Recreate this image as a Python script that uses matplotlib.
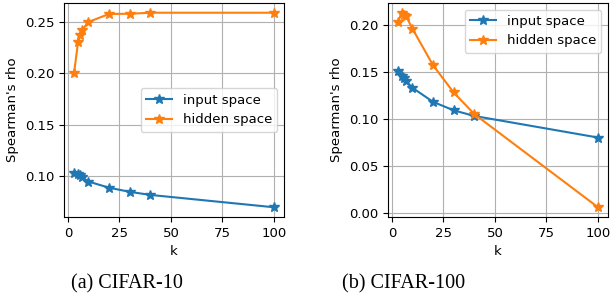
import matplotlib.pyplot as plt

k = [3, 5, 6, 7, 10, 20, 30, 40, 100]

c10_input = [0.1035, 0.1025, 0.101, 0.099, 0.095, 0.089, 0.085, 0.082, 0.070]
c10_hidden = [0.200, 0.231, 0.237, 0.2425, 0.250, 0.2578, 0.258, 0.259, 0.259]

c100_input = [0.151, 0.146, 0.143, 0.140, 0.133, 0.118, 0.109, 0.103, 0.080]
c100_hidden = [0.2036, 0.213, 0.211, 0.209, 0.196, 0.157, 0.128, 0.105, 0.0057]

captions = ["(a) CIFAR-10", "(b) CIFAR-100"]

plt.rcParams['font.size'] = 9.5

fig = plt.figure(figsize=(6.11, 3.08), dpi=100)
ax1 = fig.add_axes([64 / 611, 1 - 217 / 308, 220 / 611, 214 / 308])
ax2 = fig.add_axes([388 / 611, 1 - 217 / 308, 220 / 611, 214 / 308])

for ax, inp, hid, loc in [(ax1, c10_input, c10_hidden, 'center right'),
                          (ax2, c100_input, c100_hidden, 'upper right')]:
    ax.plot(k, inp, marker='*', markersize=7.5, label='input space')
    ax.plot(k, hid, marker='*', markersize=7.5, label='hidden space')
    ax.set_xlabel('k')
    ax.set_ylabel("Spearman's rho")
    ax.set_xticks([0, 25, 50, 75, 100])
    ax.grid(True)
    ax.legend(loc=loc)

ax1.set_yticks([0.10, 0.15, 0.20, 0.25])
ax2.set_yticks([0.00, 0.05, 0.10, 0.15, 0.20])

fig.text(127 / 611, 1 - 284 / 308, captions[0], ha='center', va='center',
         family='Liberation Serif', fontsize=14.5)
fig.text(404 / 611, 1 - 284 / 308, captions[1], ha='center', va='center',
         family='Liberation Serif', fontsize=14.5)

fig.savefig('out.png', dpi=100)
